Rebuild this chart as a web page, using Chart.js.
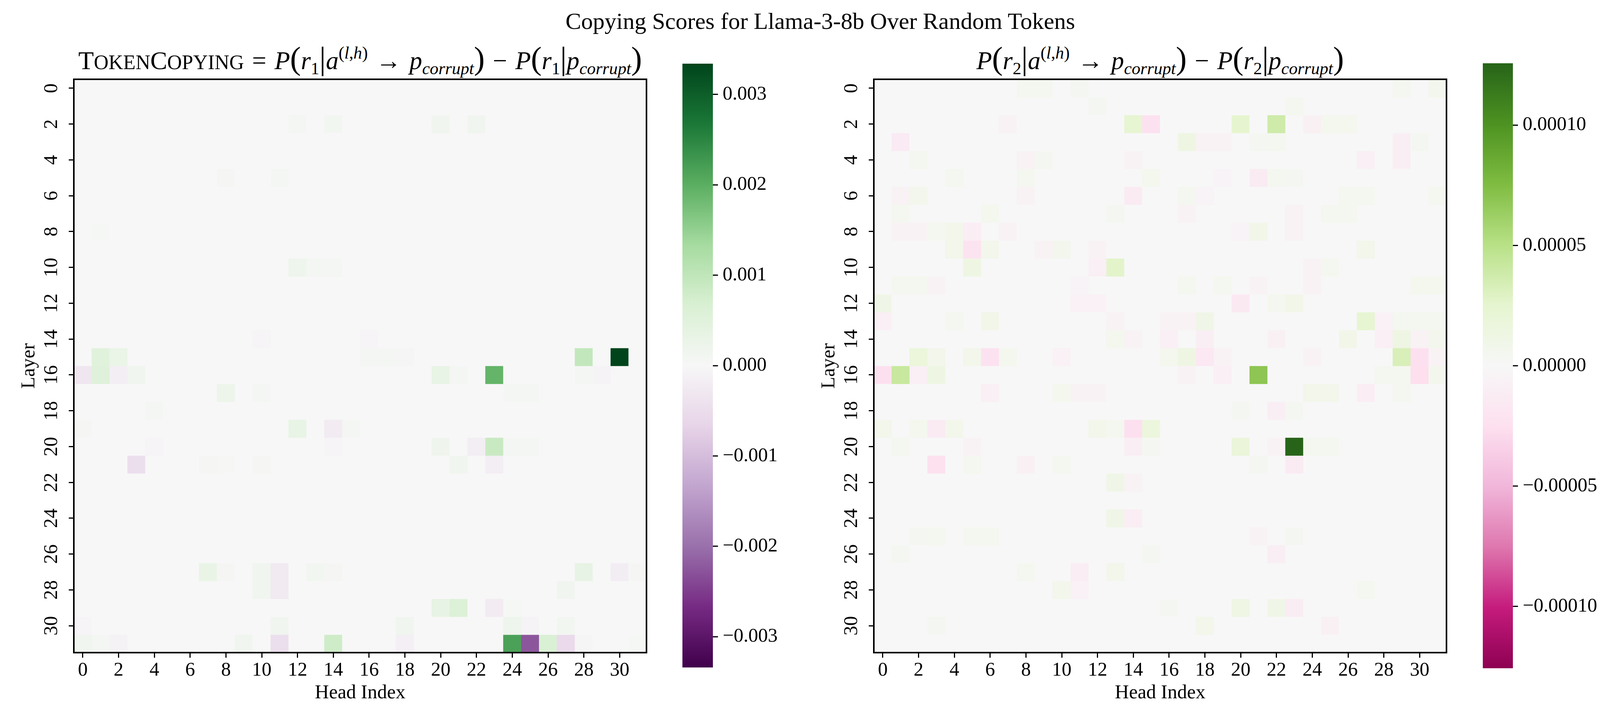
<!DOCTYPE html>
<html>
<head>
<meta charset="utf-8">
<script src="https://cdn.jsdelivr.net/npm/chart.js@4.4.1/dist/chart.umd.min.js"></script>
<style>
  body { margin: 0; background: #fff; }
  #page { position: relative; width: 4200px; height: 1800px; overflow: hidden; font-family: "Liberation Serif", serif; color: #000; }
  canvas { position: absolute; }
  .txt { position: absolute; text-align: center; line-height: 64px; white-space: nowrap; }
  .sup-title { font-size: 60px; }
  .sub-title { font-size: 65px; }
  .sc small { font-size: 80%; }
  .op { padding: 0 0.32em; }
  .big { font-size: 128%; line-height: 0; }
  sup, sub { font-size: 68%; position: relative; vertical-align: baseline; line-height: 0; }
  sup { top: -0.6em; }
  sub { top: 0.3em; }
</style>
</head>
<body>
<div id="page">
  <div class="txt sup-title" style="left:1100px;top:22px;width:2000px">Copying Scores for Llama-3-8b Over Random Tokens</div>
  <div class="txt sub-title" style="left:-78px;top:123px;width:2000px"><span class="sc">T<small>OKEN</small>C<small>OPYING</small></span><span class="op">=</span><i>P</i><span class="big">(</span><i>r</i><sub>1</sub><span class="big">|</span><i>a</i><sup>(<i>l</i>,<i>h</i>)</sup><span class="op">→</span><i>p</i><sub><i>corrupt</i></sub><span class="big">)</span><span class="op">−</span><i>P</i><span class="big">(</span><i>r</i><sub>1</sub><span class="big">|</span><i>p</i><sub><i>corrupt</i></sub><span class="big">)</span></div>
  <div class="txt sub-title" style="left:1970px;top:123px;width:2000px"><i>P</i><span class="big">(</span><i>r</i><sub>2</sub><span class="big">|</span><i>a</i><sup>(<i>l</i>,<i>h</i>)</sup><span class="op">→</span><i>p</i><sub><i>corrupt</i></sub><span class="big">)</span><span class="op">−</span><i>P</i><span class="big">(</span><i>r</i><sub>2</sub><span class="big">|</span><i>p</i><sub><i>corrupt</i></sub><span class="big">)</span></div>
  <canvas id="heatL" width="1700" height="1800" style="left:0;top:0"></canvas>
  <canvas id="barL" width="300" height="1630" style="left:1747px;top:121px"></canvas>
  <canvas id="heatR" width="1700" height="1800" style="left:2048px;top:0"></canvas>
  <canvas id="barR" width="400" height="1633" style="left:3796px;top:120px"></canvas>
</div>
<script>
// axes
const HEADS = Array.from({ length: 32 }, (_, i) => i);
const LAYERS = Array.from({ length: 32 }, (_, i) => i);
const Y_TICKS = [0, 2, 4, 6, 8, 10, 12, 14, 16, 18, 20, 22, 24, 26, 28, 30];
const CB_TICKS_R1 = [-0.003, -0.002, -0.001, 0, 0.001, 0.002, 0.003];
const CB_TICKS_R2 = [-0.0001, -0.00005, 0, 0.00005, 0.0001];

// [layer, head, score] for cells that differ visibly from 0, everything else is ~0
const r1Cells = [
  [2, 12, 0.00008], [2, 14, 0.00012], [2, 20, 0.00015], [2, 22, 0.00015],
  [5, 8, 0.00005], [5, 11, 0.00006], [8, 1, 0.00004],
  [10, 12, 0.0002], [10, 13, 0.0001], [10, 14, 0.0001],
  [14, 10, -0.00005], [14, 16, -0.00005],
  [15, 1, 0.0005], [15, 2, 0.0003], [15, 16, 0.00006], [15, 17, 0.00006], [15, 18, -0.00004],
  [15, 28, 0.00097], [15, 30, 0.00334],
  [16, 0, -0.00032], [16, 1, 0.00053], [16, 2, -0.00018], [16, 3, 0.00015], [16, 20, 0.00033],
  [16, 21, 0.0001], [16, 23, 0.00192], [16, 28, 0.00006], [16, 29, -0.00008],
  [17, 8, 0.00022], [17, 10, 0.00008], [17, 24, 0.00006], [17, 25, 0.00006],
  [18, 4, 0.00006],
  [19, 0, 0.00005], [19, 12, 0.00033], [19, 14, -0.00022], [19, 15, 0.00006],
  [20, 4, -0.00005], [20, 14, -0.00005], [20, 20, 0.00018], [20, 22, -0.00018], [20, 23, 0.00088],
  [20, 24, 0.00008], [20, 25, 0.00008],
  [21, 3, -0.00046], [21, 7, 0.00005], [21, 8, 0.00003], [21, 10, 0.00005], [21, 21, 0.00015], [21, 23, -0.00018],
  [27, 7, 0.00031], [27, 8, 0.00005], [27, 10, 0.00015], [27, 11, -0.00025], [27, 13, 0.00012],
  [27, 14, 0.00005], [27, 28, 0.00036], [27, 30, -0.0002], [27, 31, 0.00005],
  [28, 10, 0.00015], [28, 11, -0.00025], [28, 27, 0.00015],
  [29, 20, 0.00036], [29, 21, 0.0006], [29, 23, -0.00022], [29, 24, 0.00004],
  [30, 0, -0.00005], [30, 11, 0.00015], [30, 18, 0.00015], [30, 24, 0.0002], [30, 25, -0.00008], [30, 27, 0.00012],
  [31, 0, 0.00015], [31, 1, 0.0001], [31, 2, -0.0001], [31, 9, 0.00015], [31, 11, -0.00046],
  [31, 14, 0.0008], [31, 18, -0.00015], [31, 24, 0.00216], [31, 25, -0.00225], [31, 26, 0.00065],
  [31, 27, -0.00055], [31, 28, -0.00003], [31, 31, 0.00004]
];

const r2Cells = [
  [0, 8, 5e-6], [0, 9, 5e-6], [0, 11, 4e-6], [0, 29, 5e-6], [0, 31, 7e-6],
  [1, 12, 4e-6], [1, 23, 5e-6],
  [2, 7, -5e-6], [2, 14, 2.3e-5], [2, 15, -2.3e-5], [2, 20, 2.5e-5], [2, 22, 3.8e-5], [2, 24, -8e-6], [2, 25, 6e-6], [2, 26, 6e-6],
  [3, 1, -1.4e-5], [3, 17, 1.3e-5], [3, 18, -6e-6], [3, 19, -6e-6], [3, 21, 4e-6], [3, 22, 5e-6], [3, 29, -1e-5], [3, 30, 4e-6],
  [4, 2, 5e-6], [4, 8, -5e-6], [4, 9, 4e-6], [4, 14, -5e-6], [4, 27, -9e-6], [4, 29, -1e-5],
  [5, 4, 5e-6], [5, 8, 5e-6], [5, 15, 6e-6], [5, 19, -4e-6], [5, 21, -1.3e-5], [5, 22, 5e-6], [5, 23, 4e-6],
  [6, 1, -5e-6], [6, 2, 7e-6], [6, 8, -5e-6], [6, 14, -1.3e-5], [6, 17, 5e-6], [6, 18, -4e-6], [6, 26, 5e-6], [6, 27, 5e-6], [6, 31, 5e-6],
  [7, 1, 5e-6], [7, 6, 6e-6], [7, 13, 4e-6], [7, 17, -5e-6], [7, 23, -5e-6], [7, 25, 5e-6], [7, 26, 5e-6],
  [8, 1, -6e-6], [8, 2, -6e-6], [8, 3, 5e-6], [8, 4, 8e-6], [8, 5, -1.1e-5], [8, 7, -5e-6], [8, 20, -4e-6], [8, 21, 9e-6], [8, 23, -6e-6],
  [9, 4, 8e-6], [9, 5, -2.2e-5], [9, 6, 8e-6], [9, 9, -6e-6], [9, 10, 7e-6], [9, 12, -6e-6], [9, 27, 8e-6],
  [10, 5, 1.3e-5], [10, 12, -9e-6], [10, 13, 2.7e-5], [10, 24, -6e-6], [10, 25, 5e-6],
  [11, 1, 5e-6], [11, 2, 5e-6], [11, 3, -5e-6], [11, 11, -4e-6], [11, 17, 5e-6], [11, 19, 5e-6], [11, 21, -5e-6], [11, 24, -5e-6], [11, 30, 6e-6], [11, 31, 6e-6],
  [12, 0, 1e-5], [12, 11, -7e-6], [12, 12, -7e-6], [12, 20, -1.5e-5], [12, 22, 5e-6], [12, 23, 9e-6],
  [13, 0, -9e-6], [13, 4, 5e-6], [13, 6, 9e-6], [13, 13, -5e-6], [13, 16, -6e-6], [13, 17, -6e-6], [13, 18, 1e-5],
  [13, 27, 2.4e-5], [13, 28, -7e-6], [13, 29, 5e-6], [13, 30, 5e-6], [13, 31, 5e-6],
  [14, 13, 6e-6], [14, 14, -5e-6], [14, 16, -9e-6], [14, 18, -1e-5], [14, 22, -8e-6], [14, 26, 9e-6], [14, 28, -9e-6],
  [14, 29, 1.3e-5], [14, 30, -6e-6], [14, 31, 7e-6],
  [15, 2, 1.8e-5], [15, 3, 8e-6], [15, 5, 8e-6], [15, 6, -2.3e-5], [15, 7, 6e-6], [15, 10, -7e-6], [15, 16, 6e-6],
  [15, 17, 1.3e-5], [15, 18, -1.6e-5], [15, 19, -5e-6], [15, 24, -6e-6], [15, 29, 3.3e-5], [15, 30, -2.5e-5], [15, 31, -5e-6],
  [16, 0, -2.5e-5], [16, 1, 4.2e-5], [16, 2, -9e-6], [16, 3, 1.3e-5], [16, 17, -5e-6], [16, 19, -9e-6], [16, 21, 6.9e-5],
  [16, 28, 5e-6], [16, 29, 5e-6], [16, 30, -2.6e-5], [16, 31, 7e-6],
  [17, 6, -9e-6], [17, 10, 6e-6], [17, 11, -5e-6], [17, 12, -5e-6], [17, 24, 8e-6], [17, 25, 8e-6], [17, 27, -1.1e-5], [17, 29, 5e-6],
  [18, 20, 4e-6], [18, 22, -1e-5], [18, 23, 4e-6],
  [19, 0, 8e-6], [19, 2, 6e-6], [19, 3, -1.3e-5], [19, 4, 8e-6], [19, 12, 8e-6], [19, 13, 5e-6], [19, 14, -2.5e-5], [19, 15, 1.7e-5],
  [20, 1, 5e-6], [20, 5, -5e-6], [20, 14, -1e-5], [20, 15, 4e-6], [20, 20, 1.9e-5], [20, 22, -5e-6], [20, 23, 1.257e-4], [20, 24, 5e-6], [20, 25, 5e-6],
  [21, 3, -2.4e-5], [21, 5, 5e-6], [21, 8, -8e-6], [21, 10, 5e-6], [21, 21, 4e-6], [21, 23, -1.3e-5],
  [22, 13, 1e-5], [22, 14, -5e-6],
  [24, 13, 1e-5], [24, 14, -1.1e-5],
  [25, 2, 4e-6], [25, 3, 5e-6], [25, 5, 5e-6], [25, 6, 5e-6], [25, 21, -6e-6], [25, 23, 4e-6],
  [26, 1, 4e-6], [26, 15, 4e-6], [26, 22, -1e-5],
  [27, 8, 5e-6], [27, 11, -1.1e-5], [27, 13, 8e-6],
  [28, 10, 8e-6], [28, 11, -7e-6], [28, 27, 5e-6],
  [29, 16, 4e-6], [29, 20, 1.2e-5], [29, 22, 1e-5], [29, 23, -1.2e-5],
  [30, 3, 4e-6], [30, 18, 8e-6], [30, 25, -8e-6]
];

// diverging colormaps (ColorBrewer PRGn / PiYG)
const PRGN = ['#40004b', '#762a83', '#9970ab', '#c2a5cf', '#e7d4e8', '#f7f7f7', '#d9f0d3', '#a6dba0', '#5aae61', '#1b7837', '#00441b'];
const PIYG = ['#8e0152', '#c51b7d', '#de77ae', '#f1b6da', '#fde0ef', '#f7f7f7', '#e6f5d0', '#b8e186', '#7fbc41', '#4d9221', '#276419'];

const FONT = { family: "'Liberation Serif', serif", size: 50 };

function hexRgb(h) {
  return [1, 3, 5].map(i => parseInt(h.slice(i, i + 2), 16));
}

function colorAt(stops, t) {
  t = Math.min(1, Math.max(0, t));
  const x = t * (stops.length - 1);
  const i = Math.min(stops.length - 2, Math.floor(x));
  const f = x - i;
  const a = hexRgb(stops[i]), b = hexRgb(stops[i + 1]);
  return 'rgb(' + a.map((v, k) => Math.round(v + (b[k] - v) * f)).join(',') + ')';
}

function toGrid(cells) {
  const g = LAYERS.map(() => HEADS.map(() => 0));
  cells.forEach(([l, h, v]) => { g[l][h] = v; });
  return g;
}

// black frame around the heatmap
const frame = {
  id: 'frame',
  afterDraw(chart) {
    const { ctx, chartArea: a } = chart;
    ctx.save();
    ctx.strokeStyle = '#000';
    ctx.lineWidth = 4;
    ctx.strokeRect(a.left, a.top, a.right - a.left, a.bottom - a.top);
    ctx.restore();
  }
};

// layer tick labels turned 90 degrees counter-clockwise, like the matplotlib original
const yTickLabels = {
  id: 'yTickLabels',
  afterDraw(chart) {
    const s = chart.scales.y, ctx = chart.ctx;
    ctx.save();
    ctx.font = `${FONT.size}px ${FONT.family}`;
    ctx.fillStyle = '#000';
    ctx.textAlign = 'center';
    ctx.textBaseline = 'middle';
    s.ticks.forEach(t => {
      const x = s.right - 56, y = s.getPixelForValue(t.value);
      ctx.setTransform(0, -1, 1, 0, x, y);
      ctx.fillText(String(t.value), 0, 0);
    });
    ctx.setTransform(1, 0, 0, 1, 0, 0);
    ctx.restore();
  }
};

function heatmap(id, grid, stops) {
  const vmax = Math.max(...grid.flat().map(Math.abs));
  new Chart(document.getElementById(id), {
    type: 'bar',
    data: {
      labels: HEADS,
      datasets: LAYERS.map(l => ({
        data: HEADS.map(() => [l - 0.5, l + 0.5]),
        backgroundColor: HEADS.map(h => colorAt(stops, (grid[l][h] + vmax) / (2 * vmax))),
        grouped: false,
        barPercentage: 1,
        categoryPercentage: 1,
        borderWidth: 0
      }))
    },
    options: {
      responsive: false,
      animation: false,
      devicePixelRatio: 1,
      layout: { padding: { top: 203, right: 45, left: 0, bottom: 0 } },
      plugins: { legend: { display: false }, tooltip: { enabled: false } },
      scales: {
        x: {
          type: 'category',
          offset: true,
          grid: { offset: false, drawOnChartArea: false, color: '#000', tickLength: 13, tickWidth: 3 },
          border: { display: false },
          ticks: {
            autoSkip: false, maxRotation: 0, minRotation: 0, padding: 3, color: '#000', font: FONT,
            callback: (v, i) => (i % 2 === 0 ? String(HEADS[i]) : null)
          },
          title: { display: true, text: 'Head Index', color: '#000', font: { ...FONT, lineHeight: 1 }, padding: 0 },
          afterFit: s => { s.height = 129; }
        },
        y: {
          type: 'linear',
          reverse: true,
          min: -0.5,
          max: 31.5,
          afterBuildTicks: s => { s.ticks = Y_TICKS.map(v => ({ value: v })); },
          grid: { drawOnChartArea: false, color: '#000', tickLength: 13, tickWidth: 3 },
          border: { display: false },
          ticks: { display: false },
          title: { display: true, text: 'Layer', color: '#000', font: { ...FONT, lineHeight: 1 }, padding: { top: 50, bottom: 0 } },
          afterFit: s => { s.width = 189; }
        }
      }
    },
    plugins: [frame, yTickLabels]
  });
  return vmax;
}

function colorbar(id, vmax, stops, ticks, digits, axisWidth) {
  new Chart(document.getElementById(id), {
    type: 'bar',
    data: {
      labels: [''],
      datasets: [{
        data: [[-vmax, vmax]],
        backgroundColor: c => {
          const a = c.chart.chartArea;
          if (!a) return stops[5];
          const g = c.chart.ctx.createLinearGradient(0, a.bottom, 0, a.top);
          stops.forEach((s, i) => g.addColorStop(i / (stops.length - 1), s));
          return g;
        },
        barPercentage: 1,
        categoryPercentage: 1,
        borderWidth: 0,
        inflateAmount: 0
      }]
    },
    options: {
      responsive: false,
      animation: false,
      devicePixelRatio: 1,
      layout: { padding: { top: 40, bottom: 40, left: 0, right: 0 } },
      plugins: { legend: { display: false }, tooltip: { enabled: false } },
      scales: {
        x: { display: false },
        y: {
          position: 'right',
          min: -vmax,
          max: vmax,
          afterBuildTicks: s => { s.ticks = ticks.map(v => ({ value: v })); },
          grid: { drawOnChartArea: false, color: '#000', tickLength: 13, tickWidth: 3 },
          border: { display: false },
          ticks: {
            padding: 12, color: '#000', font: FONT,
            callback: v => (v < 0 ? '\u2212' : '') + Math.abs(v).toFixed(digits)
          },
          afterFit: s => { s.width = axisWidth; }
        }
      }
    }
  });
}

const vmax1 = heatmap('heatL', toGrid(r1Cells), PRGN);
const vmax2 = heatmap('heatR', toGrid(r2Cells), PIYG);
colorbar('barL', vmax1, PRGN, CB_TICKS_R1, 3, 222);
colorbar('barR', vmax2, PIYG, CB_TICKS_R2, 5, 323);
</script>
</body>
</html>
